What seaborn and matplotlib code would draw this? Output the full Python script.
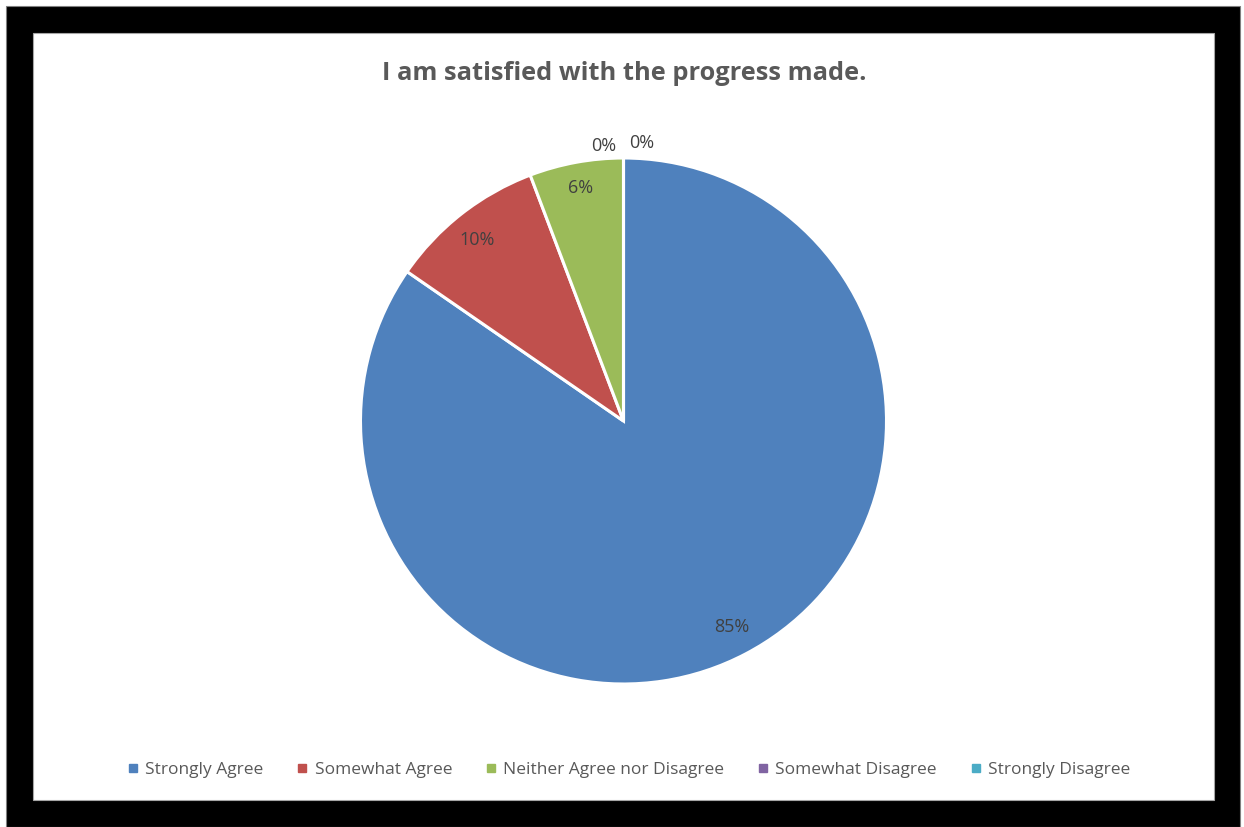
import numpy as np
import matplotlib
matplotlib.use("Agg")
import matplotlib.pyplot as plt
from matplotlib.patches import Rectangle
from matplotlib.lines import Line2D
import seaborn as sns

# Survey responses
categories = ["Strongly Agree", "Somewhat Agree", "Neither Agree nor Disagree",
              "Somewhat Disagree", "Strongly Disagree"]
counts = [44, 5, 3, 0, 0]
title = "I am satisfied with the progress made."

sns.set_theme(style="white")
plt.rcParams["font.family"] = ["Open Sans", "DejaVu Sans"]

palette = ["#4F81BD", "#C0504D", "#9BBB59", "#8064A2", "#4BACC6"]
text_grey = "#595959"
label_grey = "#404040"

W, H = 1244, 827
fig = plt.figure(figsize=(W / 100, H / 100), dpi=100)
fig.patch.set_facecolor("white")

# Black frame with white chart area inside
fig.patches.append(Rectangle((6 / W, 0), (1240 - 6) / W, (827 - 6) / H,
                             transform=fig.transFigure, facecolor="black",
                             edgecolor="#808080", linewidth=0.8, zorder=0))
fig.patches.append(Rectangle((33 / W, (827 - 800) / H), (1214 - 33) / W, (800 - 33) / H,
                             transform=fig.transFigure, facecolor="white",
                             edgecolor="#A6A6A6", linewidth=0.8, zorder=1))

# Pie axes: centre (623.5, 421) px, radius 263 px
cx, cy, r = 623.5, 421, 263
ax = fig.add_axes([(cx - r) / W, (H - cy - r) / H, 2 * r / W, 2 * r / H])
ax.set_zorder(2)
ax.patch.set_alpha(0)

values = np.array(counts, dtype=float)
wedges, _ = ax.pie(values, colors=palette, startangle=90, counterclock=False,
                   wedgeprops=dict(edgecolor="white", linewidth=2.2))
ax.set_xlim(-1, 1)
ax.set_ylim(-1, 1)
ax.set_aspect("equal")
ax.axis("off")

# Percentage labels placed at each wedge's mid-angle
pcts = values / values.sum() * 100
zero_shift = [-0.075, 0.07]
zi = 0
for w, p in zip(wedges, pcts):
    mid = np.deg2rad((w.theta1 + w.theta2) / 2)
    if p > 0:
        d = 0.885 if p > 50 else 0.9
        x, y = d * np.cos(mid), d * np.sin(mid)
        if 8 < p < 50:
            y -= 0.02
    else:
        x, y = zero_shift[zi], 1.045 + 0.012 * zi
        zi += 1
    ax.text(x, y, f"{p:.0f}%", ha="center", va="center",
            fontsize=13, color=label_grey)

fig.text(624 / W, 1 - 73 / H, title, ha="center", va="center",
         fontsize=18.3, fontweight="bold", color=text_grey)

handles = [Line2D([0], [0], marker="s", linestyle="none", markersize=6,
                  markerfacecolor=c, markeredgecolor=c) for c in palette]
fig.legend(handles, categories, loc="center", ncol=5,
           bbox_to_anchor=(629.5 / W, 1 - 769.5 / H), frameon=False,
           fontsize=12.5, labelcolor=text_grey, handlelength=0.5,
           handletextpad=0.45, columnspacing=2.0)

fig.savefig("out.png", dpi=100)
